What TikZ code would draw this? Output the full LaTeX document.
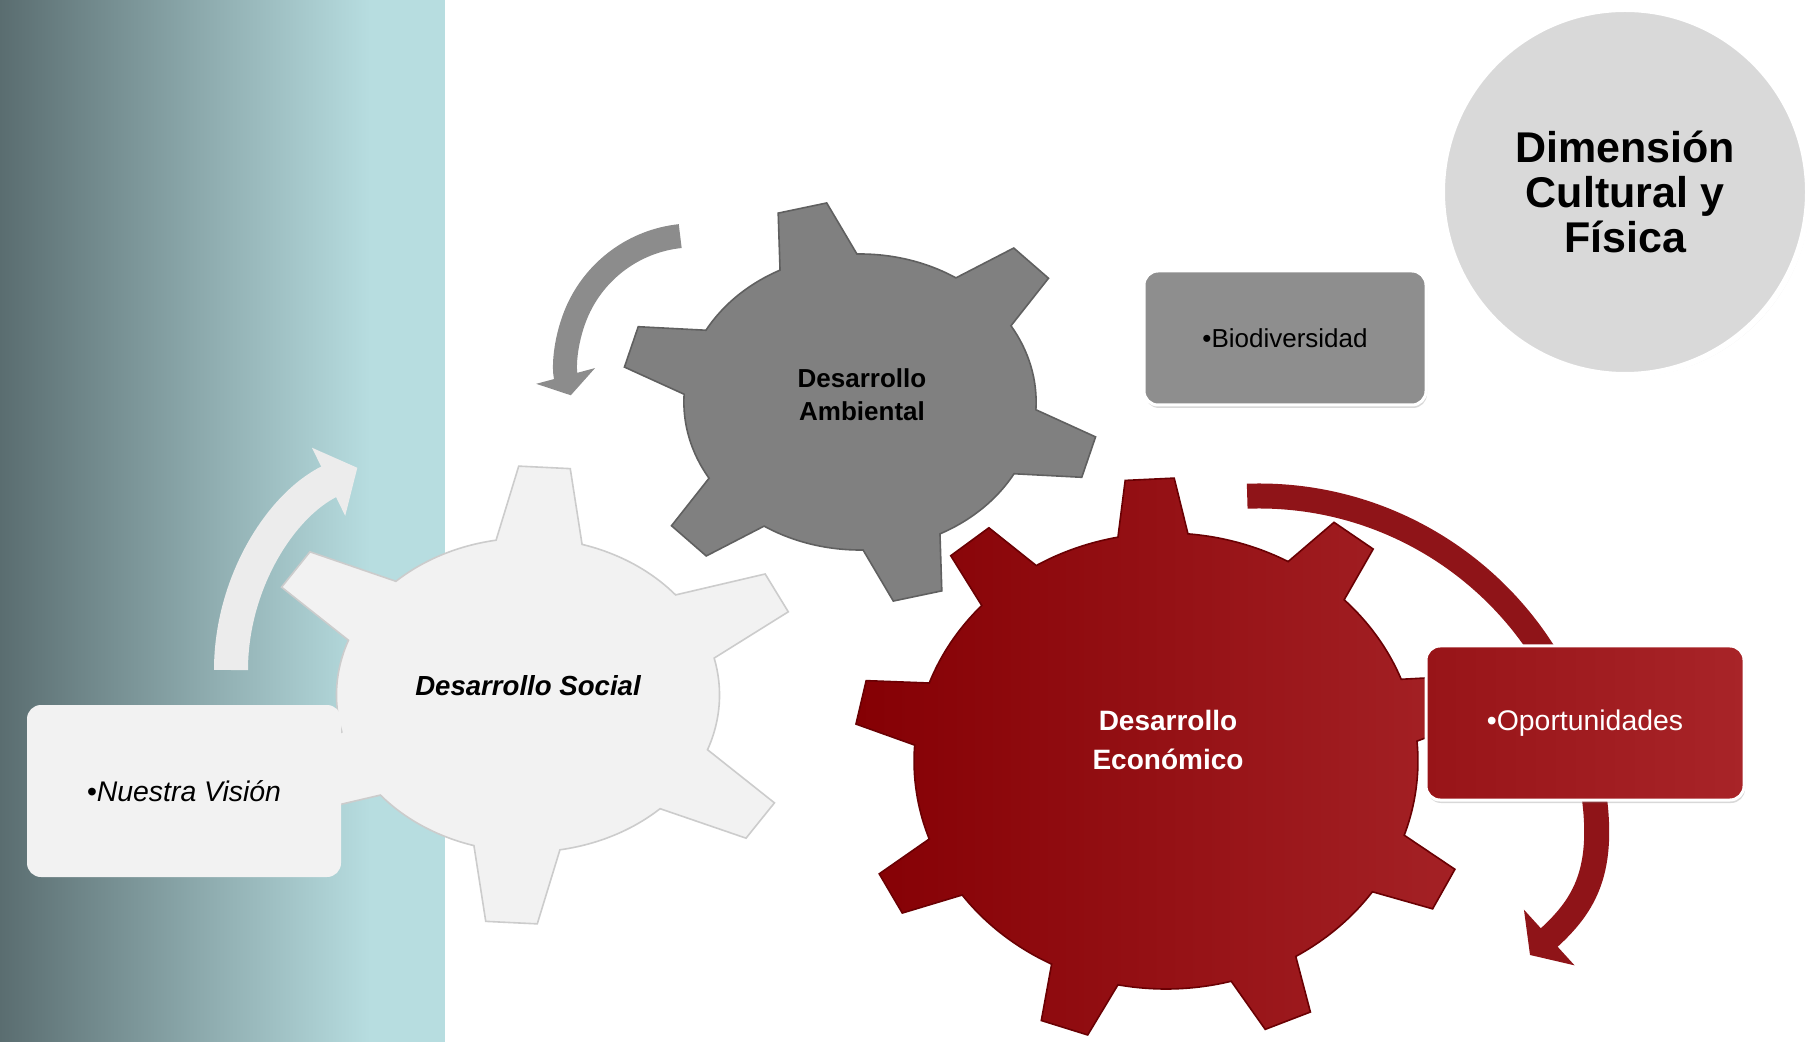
\documentclass[tikz,border=0pt]{standalone}
\usepackage{fontspec}
\setmainfont{Liberation Sans}
\usepackage{xcolor}
\usepackage{tikz}
\usetikzlibrary{arrows.meta, shadows, positioning}

\definecolor{panelDark}{HTML}{5A6D70}
\definecolor{panelLight}{HTML}{B7DDE0}
\definecolor{socialGray}{HTML}{F2F2F2}
\definecolor{ambGray}{HTML}{808080}
\definecolor{bioGray}{HTML}{8E8E8E}
\definecolor{ecoDark}{HTML}{850004}
\definecolor{ecoLight}{HTML}{A52226}
\definecolor{oportDark}{HTML}{981418}
\definecolor{oportLight}{HTML}{A82428}
\definecolor{circleGray}{HTML}{D9D9D9}

\begin{document}
\begin{tikzpicture}[x=0.5pt, y=-0.5pt,
        socialgear/.style={fill=socialGray, draw=gray!40, line width=0.8pt},
        ambgear/.style={fill=ambGray, draw=gray!75!black, line width=0.8pt},
        ecogear/.style={left color=ecoDark, right color=ecoLight, draw=ecoDark!80!black, line width=0.8pt},
        geartext/.style={align=center},
        infobox/.style={rounded corners=7pt, inner sep=0pt},
        lightarrow/.style={draw=gray!15, line width=17pt, -{Triangle[width=37pt, length=16pt]}},
        grayarrow/.style={draw=gray!90, line width=12pt, -{Triangle[width=30pt, length=10pt]}},
        redarrow/.style={draw=ecoDark!92!white, line width=12.5pt, -{Triangle[width=37pt, length=13pt]}}]

        \useasboundingbox (0,0) rectangle (1810,1042);
        \fill[white] (0,0) rectangle (1810,1042);

        % Panel
        \fill[left color=panelDark, right color=panelLight] (0,0) rectangle (370,1042);
        \fill[panelLight] (369,0) rectangle (445,1042);

        % Arrows round the gears
        \coordinate (visionStart) at (231,670);
        \draw[lightarrow] (visionStart) arc[start angle=-180, end angle=-116, radius=225];

        % Gears
        \begin{scope}[shift={(528,695)}, xscale=1.22]
            \filldraw[socialgear] (-99.6:157) \foreach \a in {-86.6,-26.6,...,213.4} { -- ({\a-5.3}:229) -- ({\a+5.3}:229) -- ({\a+13}:157) arc[start angle=\a+13, end angle=\a+47, radius=157] } -- cycle;
        \end{scope}
        \node[geartext, font=\bfseries\itshape\fontsize{13.8}{16}\selectfont] (social) at (528,686) {Desarrollo Social};

        \coordinate (ecoStart) at (1247.2,496.2);
        \draw[redarrow] (ecoStart) arc[start angle=-92, end angle=-8, radius=337] .. controls (1606,870) and (1585,905) .. (1530,955);

        \begin{scope}[shift={(1166,761)}, xscale=1.105]
            \filldraw[ecogear] (-101:228) \foreach \a/\b in {-93/-53, -53/-13, -13/27, 27/67, 67/109, 109/152, 152/192, 192/231, 231/267} { -- ({\a-4.5}:283) -- ({\a+4.5}:283) -- ({\a+8}:228) arc[start angle=\a+8, end angle=\b-8, radius=228] } -- cycle;
        \end{scope}
        \node[geartext, text=white, font=\bfseries\fontsize{14}{19.5}\selectfont] (economico) at (1168,740) {Desarrollo\\Económico};

        \begin{scope}[shift={(860,402)}, xscale=1.19]
            \filldraw[ambgear] (-117:148) \foreach \a in {-104,-44,...,196} { -- ({\a-6}:201) -- ({\a+6}:201) -- ({\a+13}:148) arc[start angle=\a+13, end angle=\a+47, radius=148] } -- cycle;
        \end{scope}
        \node[geartext, font=\bfseries\fontsize{13}{16.5}\selectfont] (ambiental) at (862,395) {Desarrollo\\Ambiental};

        \coordinate (ambStart) at (680.2,236.1);
        \draw[grayarrow] (ambStart) arc[start angle=-96, end angle=-195, radius=127];

        % Boxes
        \node[infobox, fill=socialGray, minimum width=157pt, minimum height=86pt, font=\itshape\fontsize{14.2}{16}\selectfont] (vision) at (184,791) {•Nuestra Visión};
        \node[infobox, fill=bioGray, draw=white, line width=1.5pt, minimum width=141pt, minimum height=67pt, font=\fontsize{13}{15}\selectfont, drop shadow={opacity=.3, shadow xshift=.5pt, shadow yshift=-1.5pt}] (bio) at (1285,338) {•Biodiversidad};
        \node[infobox, left color=oportDark, right color=oportLight, draw=white, line width=1.5pt, text=white, minimum width=159pt, minimum height=77pt, font=\fontsize{14.2}{16}\selectfont, drop shadow={opacity=.3, shadow xshift=.5pt, shadow yshift=-1.5pt}] (oport) at (1585,723) {•Oportunidades};

        \node[circle, fill=circleGray, draw=white, line width=3pt, minimum size=183pt, align=center, font=\bfseries\fontsize{21.5}{22.5}\selectfont, drop shadow={opacity=.25, shadow xshift=1pt, shadow yshift=-1pt}] (cultural) at (1625,192) {Dimensión\\Cultural y\\Física};

\end{tikzpicture}
\end{document}
